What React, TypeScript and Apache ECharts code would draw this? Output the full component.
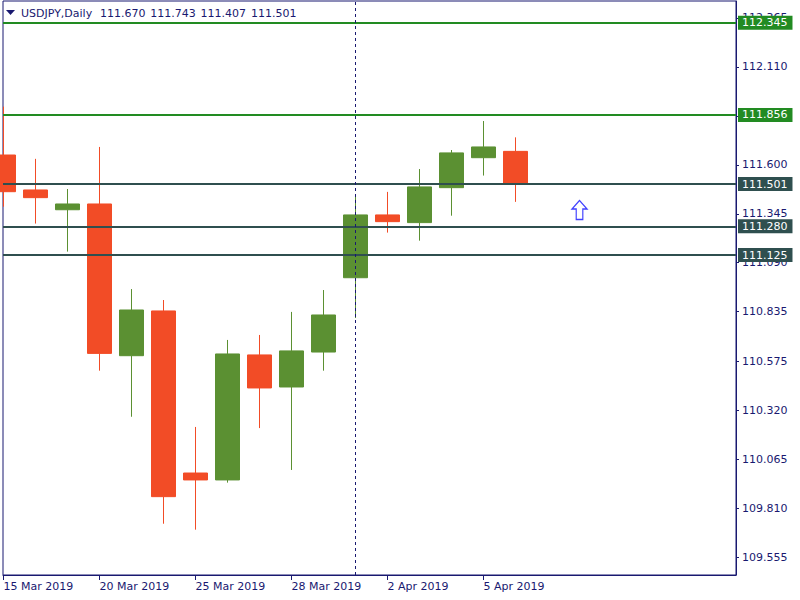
import React, { useEffect, useRef } from 'react';
import * as echarts from 'echarts';

const symbolName = 'USDJPY,Daily';
const dates = [
  '15 Mar 2019', '18 Mar 2019', '19 Mar 2019', '20 Mar 2019', '21 Mar 2019', '22 Mar 2019',
  '25 Mar 2019', '26 Mar 2019', '27 Mar 2019', '28 Mar 2019', '29 Mar 2019', '1 Apr 2019',
  '2 Apr 2019', '3 Apr 2019', '4 Apr 2019', '5 Apr 2019', '8 Apr 2019',
];
const opens = [111.651, 111.469, 111.366, 111.396, 110.606, 110.839, 109.995, 109.959, 110.610, 110.443, 110.625, 111.012, 111.339, 111.299, 111.481, 111.637, 111.670];
const closes = [111.460, 111.429, 111.396, 110.618, 110.844, 109.872, 109.959, 110.615, 110.438, 110.631, 110.818, 111.339, 111.304, 111.485, 111.662, 111.693, 111.501];
const lows = [111.382, 111.294, 111.148, 110.528, 110.288, 109.731, 109.700, 109.945, 110.229, 110.011, 110.528, 110.802, 111.247, 111.205, 111.335, 111.544, 111.407];
const highs = [111.903, 111.631, 111.474, 111.693, 110.953, 110.896, 110.235, 110.688, 110.714, 110.834, 110.948, 111.448, 111.459, 111.578, 111.677, 111.828, 111.743];

const levelValues = [112.345, 111.856, 111.501, 111.280, 111.125];
const levelColors = ['#228B22', '#228B22', '#2F4F4F', '#2F4F4F', '#2F4F4F'];
const yTickValues = [109.555, 109.810, 110.065, 110.320, 110.575, 110.835, 111.090, 111.345, 111.600, 111.855, 112.110, 112.365];
const dateTickIndices = [0, 3, 6, 9, 12, 15];
const separatorIndex = 11;
const arrowPoint = [18, 111.365];

const NAVY = '#191970';
const UP = '#5B9032';
const DOWN = '#F24C26';
const FONT = 'DejaVu Sans';

export default function App() {
  const ref = useRef<HTMLDivElement>(null);

  useEffect(() => {
    if (!ref.current) return;
    const chart = echarts.init(ref.current, null, { renderer: 'svg' });
    const last = dates.length - 1;
    const headerValues = [opens[last], highs[last], lows[last], closes[last]];

    const candleData = dates.map((_, i) => [i, opens[i], closes[i], lows[i], highs[i]]);

    const option: any = {
      animation: false,
      backgroundColor: '#ffffff',
      grid: {
        left: 3,
        right: 64,
        top: 1,
        bottom: 25,
        show: true,
        borderColor: NAVY,
        borderWidth: 1,
        backgroundColor: '#ffffff',
      },
      xAxis: {
        type: 'value',
        min: -0.016,
        max: 22.89,
        axisLine: { show: true, onZero: false, lineStyle: { color: NAVY, width: 1 } },
        axisTick: { show: true, customValues: dateTickIndices, length: 5, lineStyle: { color: NAVY } },
        axisLabel: {
          show: true,
          customValues: dateTickIndices,
          formatter: (v: number) => dates[Math.round(v)] ?? '',
          align: 'left',
          margin: 6,
          color: NAVY,
          fontFamily: FONT,
          fontSize: 11,
        },
        splitLine: { show: false },
      },
      yAxis: {
        type: 'value',
        position: 'right',
        min: 109.464,
        max: 112.453,
        scale: true,
        axisLine: { show: true, onZero: false, lineStyle: { color: NAVY, width: 1 } },
        axisTick: { show: true, customValues: yTickValues, length: 3, lineStyle: { color: NAVY } },
        axisLabel: {
          show: true,
          customValues: yTickValues,
          formatter: (v: number) => v.toFixed(3),
          margin: 6,
          color: NAVY,
          fontFamily: FONT,
          fontSize: 11,
        },
        splitLine: { show: false },
      },
      series: [
        {
          type: 'candlestick',
          data: candleData,
          encode: { x: 0, y: [1, 2, 3, 4] },
          barWidth: 24,
          itemStyle: {
            color: UP,
            color0: DOWN,
            borderColor: UP,
            borderColor0: DOWN,
            borderWidth: 1,
          },
          markLine: {
            silent: true,
            symbol: 'none',
            animation: false,
            z: 10,
            data: [
              ...levelValues.map((v, i) => ({
                yAxis: v,
                lineStyle: { color: levelColors[i], width: 2, type: 'solid' },
                label: {
                  show: true,
                  position: 'end',
                  distance: 2,
                  formatter: () => v.toFixed(3),
                  backgroundColor: levelColors[i],
                  color: '#ffffff',
                  fontFamily: FONT,
                  fontSize: 11,
                  padding: [1, 5, 1, 4],
                  lineHeight: 12,
                },
              })),
              {
                xAxis: separatorIndex,
                lineStyle: { color: NAVY, width: 1, type: [3, 3] },
                label: { show: false },
              },
            ],
          },
        },
        {
          type: 'scatter',
          data: [arrowPoint],
          symbol: 'path://M50 0 L100 45 L72 45 L72 100 L28 100 L28 45 L0 45 Z',
          symbolSize: [15, 19],
          itemStyle: { color: '#ffffff', borderColor: '#1010ff', borderWidth: 1.3 },
          z: 5,
        },
      ],
      graphic: [
        {
          type: 'polygon',
          shape: { points: [[6, 10], [15, 10], [10.5, 15]] },
          style: { fill: NAVY },
          z: 100,
        },
        {
          type: 'text',
          x: 21,
          y: 13,
          style: { text: symbolName, fill: NAVY, font: `11px "${FONT}"`, verticalAlign: 'middle' },
          z: 100,
        },
        ...headerValues.map((v, k) => ({
          type: 'text',
          x: 100 + k * 50.3,
          y: 13,
          style: { text: v.toFixed(3), fill: NAVY, font: `11px "${FONT}"`, verticalAlign: 'middle' },
          z: 100,
        })),
      ],
    };

    chart.setOption(option);
    return () => chart.dispose();
  }, []);

  return (
    <div
      ref={ref}
      style={{ position: 'absolute', left: 0, top: 0, width: 800, height: 600, background: '#fff' }}
    />
  );
}
